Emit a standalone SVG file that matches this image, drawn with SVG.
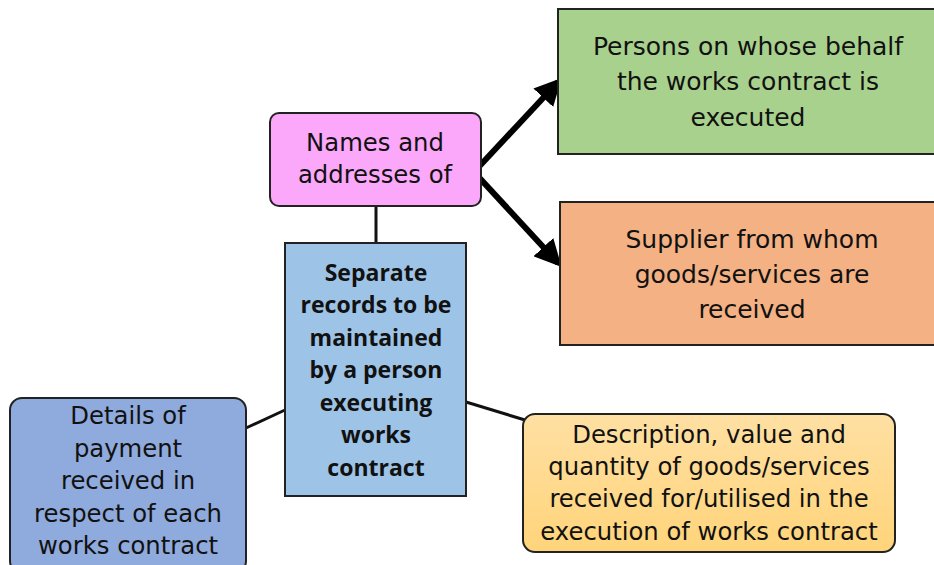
<svg xmlns="http://www.w3.org/2000/svg" width="934" height="565" viewBox="0 0 934 565">
<style>
text{font-family:"DejaVu Sans","Open Sans",sans-serif;font-size:24.3px;fill:#111;text-anchor:middle}
.big{font-size:25px}
.b{font-family:"Open Sans","DejaVu Sans",sans-serif;font-weight:bold;font-size:23px}
.box{stroke:#222;stroke-width:2}
.thin{stroke:#111;stroke-width:3;fill:none}
.thick{stroke:#000;stroke-width:6;fill:none}
</style>
<defs>
<marker id="ah" viewBox="0 0 10 10" refX="8" refY="5" markerWidth="4.5" markerHeight="4.5" orient="auto" markerUnits="strokeWidth">
<path d="M0,0 L10,5 L0,10 z" fill="#000"/>
</marker>
<linearGradient id="yg" x1="0" y1="0" x2="0" y2="1">
<stop offset="0" stop-color="#ffe0a3"/>
<stop offset="1" stop-color="#ffd47a"/>
</linearGradient>
</defs>
<g id="connectors">
<line class="thin" x1="376" y1="206" x2="376" y2="243"/>
<line class="thin" x1="246" y1="428" x2="285" y2="410"/>
<line class="thin" x1="466" y1="402" x2="525" y2="420"/>
<path class="thick" d="M474,172 L558,82" marker-end="url(#ah)"/>
<path class="thick" d="M474,172 L558,263" marker-end="url(#ah)"/>
</g>
<g id="names">
<rect class="box" x="270" y="113" width="211" height="93" rx="9" fill="#fba8fb"/>
<text x="375" y="151">Names and</text>
<text x="375" y="183">addresses of</text>
</g>
<g id="persons">
<rect class="box" x="558" y="9" width="380" height="145" fill="#a9d18e"/>
<text class="big" x="748" y="55">Persons on whose behalf</text>
<text class="big" x="748" y="90">the works contract is</text>
<text class="big" x="748" y="126">executed</text>
</g>
<g id="supplier">
<rect class="box" x="560" y="202" width="378" height="143" fill="#f4b183"/>
<text class="big" x="752" y="248">Supplier from whom</text>
<text class="big" x="752" y="283">goods/services are</text>
<text class="big" x="752" y="318">received</text>
</g>
<g id="center">
<rect class="box" x="285" y="243" width="181" height="253" fill="#9dc3e6"/>
<text class="b" x="376" y="281">Separate</text>
<text class="b" x="376" y="313">records to be</text>
<text class="b" x="376" y="346">maintained</text>
<text class="b" x="376" y="378">by a person</text>
<text class="b" x="376" y="411">executing</text>
<text class="b" x="376" y="443">works</text>
<text class="b" x="376" y="476">contract</text>
</g>
<g id="payment">
<rect class="box" x="10" y="398" width="236" height="175" rx="12" fill="#8faadc"/>
<text x="128" y="424">Details of</text>
<text x="128" y="457">payment</text>
<text x="128" y="489">received in</text>
<text x="128" y="522">respect of each</text>
<text x="128" y="554">works contract</text>
</g>
<g id="description">
<rect class="box" x="523" y="414" width="372" height="138" rx="12" fill="url(#yg)"/>
<text x="709" y="443">Description, value and</text>
<text x="709" y="475">quantity of goods/services</text>
<text x="709" y="507">received for/utilised in the</text>
<text x="709" y="540">execution of works contract</text>
</g>
</svg>
